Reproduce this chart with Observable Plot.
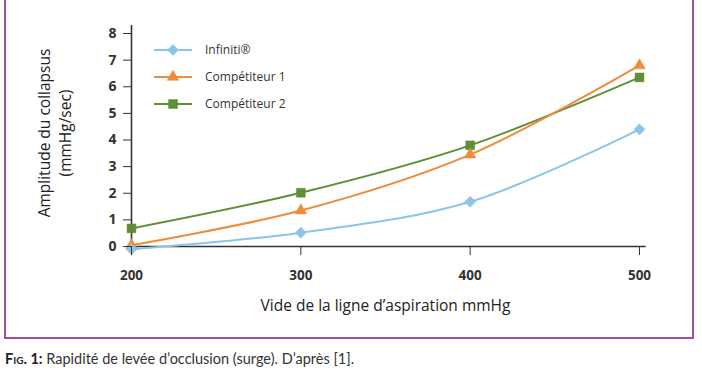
<!DOCTYPE html>
<html>
<head>
<meta charset="utf-8">
<script src="https://cdn.jsdelivr.net/npm/d3@7"></script>
<script src="https://cdn.jsdelivr.net/npm/@observablehq/plot@0.6"></script>
<style>
  html, body { margin: 0; padding: 0; background: #fff; width: 702px; height: 370px; overflow: hidden; }
  #wrap { position: relative; width: 702px; height: 370px; font-family: "Open Sans", sans-serif; }
  #frame { position: absolute; left: 4px; top: -10px; width: 686px; height: 345px; border: 2.5px solid #a24f9f; box-sizing: content-box; }
  #chart { position: absolute; left: 0; top: 0; }
  #legend { position: absolute; left: 153px; top: 36px; font-size: 12px; color: #333; }
  .li { display: flex; align-items: center; height: 27px; }
  .li span { margin-left: 12px; }
  #ytitle { position: absolute; left: 55px; top: 133px; width: 0; height: 0; }
  #ytitle div { position: absolute; left: 0; top: 0; transform: translate(-50%, -50%) rotate(-90deg); white-space: nowrap; text-align: center; font-size: 15.5px; line-height: 21px; color: #222; }
  #caption { position: absolute; left: 5px; top: 350px; font-size: 14.5px; line-height: 18px; color: #333; font-family: Lato, sans-serif; white-space: nowrap; }
  #caption b { font-variant: small-caps; color: #222; }
</style>
</head>
<body>
<div id="wrap">
  <div id="frame"></div>
  <div id="chart"></div>
  <div id="legend"></div>
  <div id="ytitle"><div>Amplitude du collapsus<br>(mmHg/sec)</div></div>
  <div id="caption"><b>Fig. 1:</b> Rapidité de levée d’occlusion (surge). D’après [1].</div>
</div>
<script>
const vacuum = [200, 300, 400, 500];
const seriesNames = ["Infiniti®", "Compétiteur 1", "Compétiteur 2"];
const infiniti = [-0.1, 0.52, 1.68, 4.4];
const competiteur1 = [0.05, 1.35, 3.45, 6.8];
const competiteur2 = [0.68, 2.02, 3.8, 6.35];
const yTicks = [0, 1, 2, 3, 4, 5, 6, 7, 8];
const xTicks = [200, 300, 400, 500];

const colors = ["#8dc5e9", "#ef8b3b", "#5f8f34"];
const symbols = ["diamond2", "triangle", "square"];
const radii = [5, 4.3, 5];
const allValues = [infiniti, competiteur1, competiteur2];

const rows = [];
allValues.forEach((vals, s) => vals.forEach((v, i) => rows.push({series: seriesNames[s], x: vacuum[i], y: v})));

const order = [2, 1, 0];
const marks = [];
marks.push(Plot.ruleY([0], {x1: 200, x2: 504, stroke: "#333", strokeWidth: 1.6}));
marks.push(Plot.ruleX([200], {y1: 0, y2: 8.3, stroke: "#333", strokeWidth: 1.6}));
for (const s of order) {
  const d = rows.filter(r => r.series === seriesNames[s]);
  marks.push(Plot.line(d, {x: "x", y: "y", stroke: colors[s], strokeWidth: 2, curve: "catmull-rom"}));
}
for (const s of order) {
  const d = rows.filter(r => r.series === seriesNames[s]);
  marks.push(Plot.dot(d, {x: "x", y: "y", symbol: () => symbols[s], fill: colors[s], stroke: colors[s], strokeWidth: 0.5, r: radii[s]}));
}
marks.push(Plot.axisY(yTicks, {tickSize: 8, tickPadding: 7, fontSize: 14, fontWeight: "bold", stroke: "#333", fill: "#333", label: null, tickFormat: d3.format("d")}));
marks.push(Plot.axisX(xTicks, {tickSize: 9, tickPadding: 15, fontSize: 13.5, fontWeight: "bold", stroke: "#333", fill: "#333", label: null, tickFormat: d3.format("d")}));
marks.push(Plot.text(["Vide de la ligne d’aspiration mmHg"], {frameAnchor: "bottom", dy: 64, fontSize: 15.5, fill: "#222"}));

const chart = Plot.plot({
  width: 702,
  height: 340,
  marginLeft: 131,
  marginRight: 63,
  marginTop: 33,
  marginBottom: 94,
  style: {fontFamily: "Open Sans, sans-serif", background: "transparent", overflow: "visible"},
  x: {domain: [200, 500]},
  y: {domain: [0, 8]},
  symbol: {type: "identity"},
  marks
});
document.getElementById("chart").appendChild(chart);

// legend
const leg = document.getElementById("legend");
const symMap = {diamond2: d3.symbolDiamond2, triangle: d3.symbolTriangle, square: d3.symbolSquare};
seriesNames.forEach((name, s) => {
  const row = document.createElement("div");
  row.className = "li";
  const svg = d3.create("svg").attr("width", 40).attr("height", 14);
  svg.append("line").attr("x1", 1).attr("x2", 39).attr("y1", 7).attr("y2", 7).attr("stroke", colors[s]).attr("stroke-width", 2);
  svg.append("path").attr("d", d3.symbol(symMap[symbols[s]], Math.PI * radii[s] * radii[s])())
    .attr("transform", "translate(20,7)").attr("fill", colors[s]).attr("stroke", colors[s]).attr("stroke-width", 0.5);
  row.appendChild(svg.node());
  const sp = document.createElement("span");
  sp.textContent = name;
  row.appendChild(sp);
  leg.appendChild(row);
});
</script>
</body>
</html>
